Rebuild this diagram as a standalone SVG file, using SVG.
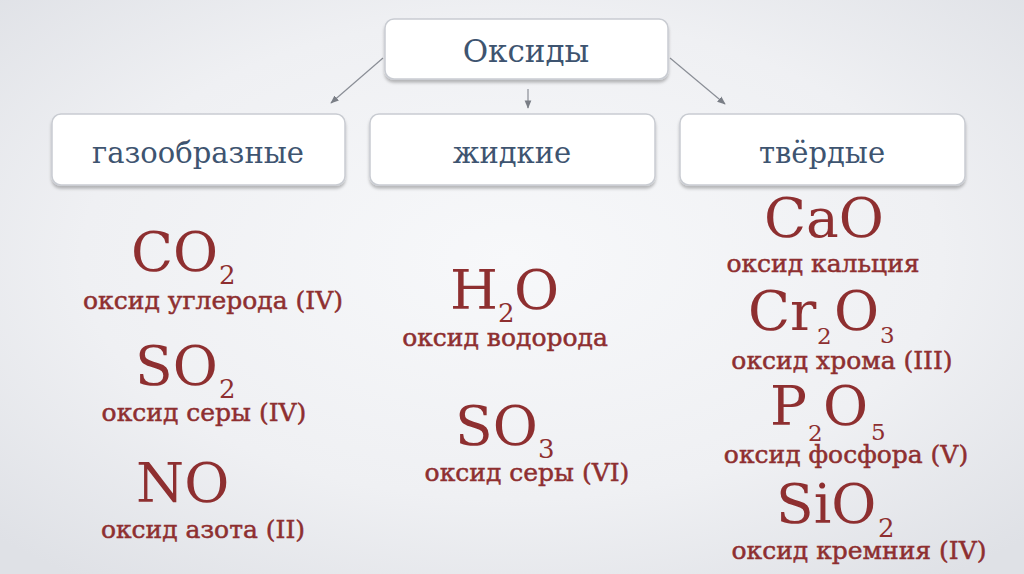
<svg xmlns="http://www.w3.org/2000/svg" width="1024" height="574" viewBox="0 0 1024 574">
<defs>
<radialGradient id="bg" cx="0.5" cy="0.45" r="0.7">
<stop offset="0" stop-color="#f7f8fa"/>
<stop offset="0.6" stop-color="#eff0f3"/>
<stop offset="1" stop-color="#dfe1e6"/>
</radialGradient>
<filter id="sh" x="-10%" y="-20%" width="120%" height="150%">
<feDropShadow dx="0" dy="3" stdDeviation="1.5" flood-color="#000" flood-opacity="0.25"/>
</filter>
<marker id="ah" viewBox="0 0 10 10" refX="9" refY="5" markerWidth="7" markerHeight="7" orient="auto-start-reverse">
<path d="M0,1 L10,5 L0,9 z" fill="#7a7e86"/>
</marker>
<style>
.box{fill:#fff;stroke:#c9ccd2;stroke-width:1.5;filter:url(#sh)}
.hd{font-family:"DejaVu Serif","Liberation Serif",serif;fill:#3e5470;text-anchor:middle}
.f{font-family:"DejaVu Serif","Liberation Serif",serif;fill:#8e2f30;font-size:55px}
.c{font-family:"DejaVu Serif","Liberation Serif",serif;fill:#8e2f30;stroke:#8e2f30;stroke-width:0.5;text-anchor:middle;font-size:25px}
.s{font-size:26px}
.t{font-size:23px}
.ln{stroke:#8a8e96;stroke-width:1.2;fill:none;marker-end:url(#ah)}
</style>
</defs>
<rect width="1024" height="574" fill="url(#bg)"/>
<g id="connectors">
<line class="ln" x1="383" y1="58" x2="331" y2="103"/>
<line class="ln" x1="528" y1="89" x2="528" y2="108"/>
<line class="ln" x1="670" y1="58" x2="725" y2="104"/>
</g>
<g id="n-oxides">
<rect class="box" x="385" y="19" width="283" height="60" rx="9"/>
<text class="hd" x="526" y="62" font-size="31">Оксиды</text>
</g>
<g id="n-gas">
<rect class="box" x="52" y="114" width="293" height="71" rx="9"/>
<text class="hd" x="198" y="163" font-size="29">газообразные</text>
</g>
<g id="n-liquid">
<rect class="box" x="370" y="114" width="285" height="71" rx="9"/>
<text class="hd" x="512" y="163" font-size="29">жидкие</text>
</g>
<g id="n-solid">
<rect class="box" x="680" y="114" width="285" height="71" rx="9"/>
<text class="hd" x="822" y="163" font-size="29">твёрдые</text>
</g>
<g id="gas-items">
<text class="f" x="131" y="271">CO<tspan class="s" x="219" y="284">2</tspan></text>
<text class="c" x="213" y="309">оксид углерода (IV)</text>
<text class="f" x="135" y="385">SO<tspan class="s" x="219" y="398">2</tspan></text>
<text class="c" x="204" y="421">оксид серы (IV)</text>
<text class="f" x="136" y="502">NO</text>
<text class="c" x="203" y="538">оксид азота (II)</text>
</g>
<g id="liquid-items">
<text class="f" x="450" y="309">H<tspan class="s" x="498" y="322">2</tspan><tspan x="514" y="309">O</tspan></text>
<text class="c" x="505" y="346">оксид водорода</text>
<text class="f" x="455" y="445">SO<tspan class="s" x="538" y="458">3</tspan></text>
<text class="c" x="527" y="481">оксид серы (VI)</text>
</g>
<g id="solid-items">
<text class="f" x="764" y="237">CaO</text>
<text class="c" x="823" y="272">оксид кальция</text>
<text class="f" x="748" y="330">Cr<tspan class="t" x="817" y="344">2</tspan><tspan x="834" y="330">O</tspan><tspan class="t" x="880" y="343">3</tspan></text>
<text class="c" x="842" y="369">оксид хрома (III)</text>
<text class="f" x="770" y="425">P<tspan class="t" x="808" y="441">2</tspan><tspan x="823" y="425">O</tspan><tspan class="t" x="871" y="440">5</tspan></text>
<text class="c" x="846" y="463">оксид фосфора (V)</text>
<text class="f" x="776" y="523">SiO<tspan class="s" x="878" y="537">2</tspan></text>
<text class="c" x="859" y="559">оксид кремния (IV)</text>
</g>
</svg>
